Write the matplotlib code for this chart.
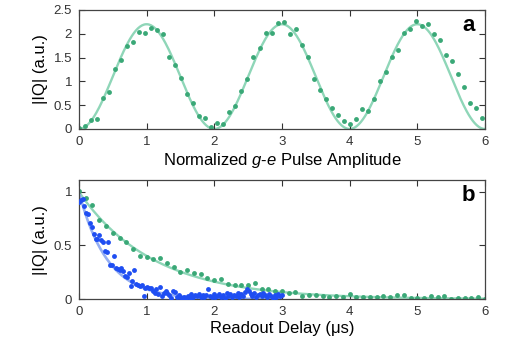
import numpy as np
import matplotlib
matplotlib.use("Agg")
import matplotlib.pyplot as plt

plt.rcParams['font.family'] = ['Liberation Sans', 'DejaVu Sans']
plt.rcParams['mathtext.fontset'] = 'custom'
plt.rcParams['mathtext.it'] = 'Liberation Sans:italic'
plt.rcParams['mathtext.rm'] = 'Liberation Sans'

# --- panel a: Rabi amplitude sweep ---
amp_x = np.linspace(0, 5.96, 68)
amp_iq = [0.02, 0.06, 0.18, 0.21, 0.64, 0.77, 1.26, 1.44, 1.74, 1.83,
          2.04, 2.01, 2.13, 2.08, 1.99, 1.52, 1.34, 1.08, 0.74, 0.55,
          0.27, 0.22, 0.04, 0.13, 0.11, 0.36, 0.49, 0.79, 1.06, 1.51,
          1.71, 2.01, 2.01, 2.22, 2.24, 1.99, 2.10, 1.76, 1.51, 1.06,
          0.82, 0.62, 0.43, 0.29, 0.16, 0.10, 0.20, 0.41, 0.38, 0.62,
          1.00, 1.20, 1.52, 1.66, 2.01, 2.10, 2.27, 2.17, 2.20, 2.00,
          1.86, 1.55, 1.42, 1.15, 0.88, 0.54, 0.45, 0.24]
rabi_amp = 2.2      # fit amplitude
rabi_period = 2.0   # fit period (normalized amplitude)

# --- panel b: readout delay decay ---
green_t = np.linspace(0, 6, 61)
green_iq = [1.01, 0.94, 0.88, 0.74, 0.68, 0.62, 0.57, 0.53, 0.47, 0.40,
            0.39, 0.37, 0.38, 0.34, 0.30, 0.25, 0.27, 0.24, 0.23, 0.20,
            0.18, 0.19, 0.14, 0.13, 0.13, 0.13, 0.15, 0.09, 0.09, 0.08,
            0.08, 0.06, 0.07, 0.03, 0.04, 0.04, 0.03, 0.02, 0.03, 0.02,
            0.05, 0.02, 0.02, 0.02, 0.02, 0.03, 0.02, 0.04, 0.04, 0.01,
            0.01, 0.01, 0.03, 0.02, 0.03, 0.00, 0.01, 0.01, 0.01, 0.02,
            0.00]
green_tau = 1.1

blue_t = np.linspace(0, 3, 111)
blue_iq = [0.91, 0.92, 0.93, 0.87, 0.80, 0.79, 0.71, 0.67, 0.61, 0.56,
           0.56, 0.60, 0.55, 0.53, 0.45, 0.44, 0.53, 0.32, 0.32, 0.40,
           0.29, 0.28, 0.27, 0.29, 0.26, 0.22, 0.21, 0.24, 0.12, 0.17,
           0.27, 0.14, 0.13, 0.12, 0.13, 0.03, 0.10, 0.11, 0.10, 0.10,
           0.08, 0.06, 0.09, 0.05, 0.11, 0.03, 0.06, 0.08, 0.06, 0.04,
           0.01, 0.08, 0.07, 0.02, 0.04, 0.02, 0.01, 0.02, 0.01, 0.03,
           0.01, 0.05, 0.02, 0.04, 0.03, 0.05, 0.02, 0.04, 0.02, 0.04,
           0.09, 0.03, 0.02, 0.05, 0.02, 0.03, 0.05, 0.02, 0.04, 0.01,
           0.06, 0.03, 0.05, 0.02, 0.04, 0.03, 0.06, 0.02, 0.05, 0.03,
           0.07, 0.09, 0.08, 0.05, 0.03, 0.06, 0.02, 0.04, 0.05, 0.03,
           0.06, 0.04, 0.02, 0.05, 0.03, 0.01, 0.04, 0.02, 0.05, 0.03,
           0.04]
blue_tau = 0.42

green_pt = '#3aa877'
green_fit = '#8fd6b8'
blue_pt = '#1f4ef2'
blue_fit = '#94aef2'

fig = plt.figure(figsize=(5.26, 3.43), dpi=100)
ax1 = fig.add_axes([0.150, 0.624, 0.772, 0.347])
ax2 = fig.add_axes([0.150, 0.128, 0.772, 0.347])

xf = np.linspace(0, 6, 400)
ax1.plot(xf, rabi_amp * np.sin(np.pi * xf / rabi_period) ** 2,
         color=green_fit, lw=1.7, zorder=1)
ax1.plot(amp_x, amp_iq, 'o', color=green_pt, ms=3.5, mew=0, zorder=2)
ax1.set_ylim(0, 2.5)
ax1.set_yticks([0, 0.5, 1, 1.5, 2, 2.5])
ax1.set_yticklabels(['0', '0.5', '1', '1.5', '2', '2.5'])
ax1.set_xlabel('Normalized $g$-$e$ Pulse Amplitude', fontsize=12, labelpad=2)
ax1.text(0.975, 0.87, 'a', transform=ax1.transAxes, ha='right', va='center',
         fontsize=16, fontweight='bold')

tb = np.linspace(0, 3, 200)
ax2.plot(xf, np.exp(-xf / green_tau), color=green_fit, lw=1.7, zorder=1)
ax2.plot(tb, np.exp(-tb / blue_tau), color=blue_fit, lw=1.9, zorder=1)
ax2.plot(green_t, green_iq, 'o', color=green_pt, ms=3.5, mew=0, zorder=2)
ax2.plot(blue_t, blue_iq, 'o', color=blue_pt, ms=3.5, mew=0, zorder=3)
ax2.set_ylim(0, 1.11)
ax2.set_yticks([0, 0.5, 1])
ax2.set_yticklabels(['0', '0.5', '1'])
ax2.set_xlabel('Readout Delay (μs)', fontsize=12, labelpad=2)
ax2.text(0.975, 0.87, 'b', transform=ax2.transAxes, ha='right', va='center',
         fontsize=16, fontweight='bold')

for ax in (ax1, ax2):
    ax.set_xlim(0, 6)
    ax.set_xticks(range(7))
    ax.set_ylabel('|IQ| (a.u.)', fontsize=12, labelpad=4)
    ax.tick_params(direction='in', top=True, right=True, labelsize=9.5,
                   length=4, width=0.8, colors='#333333', pad=5)
    for s in ax.spines.values():
        s.set_color('#444444')
        s.set_linewidth(0.9)

fig.savefig('out.png', dpi=100)
